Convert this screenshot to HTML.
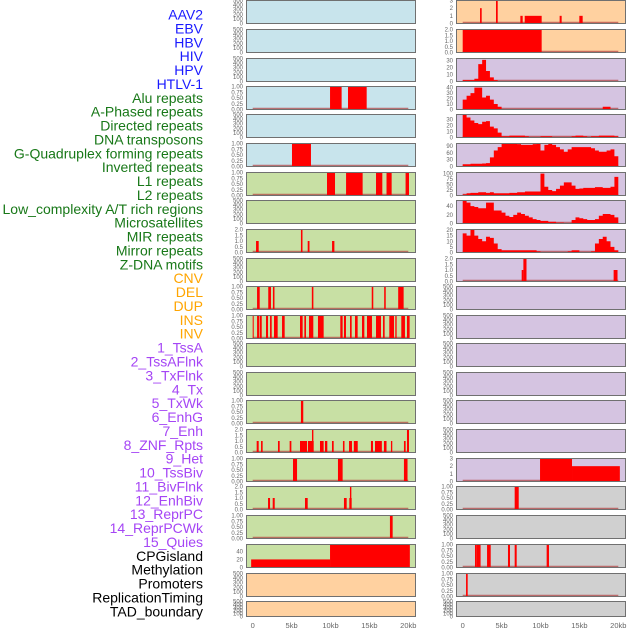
<!DOCTYPE html>
<html><head><meta charset="utf-8">
<style>
html,body{margin:0;padding:0;background:#fff;}
svg{display:block;font-family:"Liberation Sans",sans-serif;}
</style></head>
<body>
<svg id="chart" width="630" height="630" viewBox="0 0 630 630"></svg>
<script>
// ---------- data ----------
const trackLabels = ["AAV2","EBV","HBV","HIV","HPV","HTLV-1","Alu repeats","A-Phased repeats","Directed repeats","DNA transposons","G-Quadruplex forming repeats","Inverted repeats","L1 repeats","L2 repeats","Low_complexity A/T rich regions","Microsatellites","MIR repeats","Mirror repeats","Z-DNA motifs","CNV","DEL","DUP","INS","INV","1_TssA","2_TssAFlnk","3_TxFlnk","4_Tx","5_TxWk","6_EnhG","7_Enh","8_ZNF_Rpts","9_Het","10_TssBiv","11_BivFlnk","12_EnhBiv","13_ReprPC","14_ReprPCWk","15_Quies","CPGisland","Methylation","Promoters","ReplicationTiming","TAD_boundary"];
const labelGroups = ["v","v","v","v","v","v","r","r","r","r","r","r","r","r","r","r","r","r","r","s","s","s","s","s","c","c","c","c","c","c","c","c","c","c","c","c","c","c","c","k","k","k","k","k"];
const xTickValues = [0,5,10,15,20];
const xTickLabels = ["0","5kb","10kb","15kb","20kb"];

// left column segments [startKb, endKb, value]
const segL4 = [[9.94,11.43,1],[12.25,14.65,1]];
const segL6 = [[5.05,7.49,1]];
const segL7 = [[9.55,10.58,1],[12.0,14.13,1],[15.85,16.66,1],[17.2,17.86,1],[19.65,20.09,1]];
const segL9 = [[0.43,0.77,1],[6.2,6.4,2],[7.07,7.3,1],[10.2,10.5,1]];
const segL11 = [[0.56,0.9,1],[2.0,2.35,1],[2.6,2.8,1],[7.6,7.8,1],[15.3,15.5,1],[16.9,17.1,1],[18.7,19.4,1]];
const segL12 = [[0,0.13,1],[0.56,0.86,1],[0.94,1.16,1],[1.71,1.97,1],[2.23,2.44,1],[2.74,3.21,1],[3.77,4.11,1],[6.08,6.42,1],[6.64,6.85,1],[7.24,7.79,1],[8.39,9.12,1],[11.26,11.56,1],[11.73,11.99,1],[12.51,12.72,1],[13.15,13.49,1],[14.05,14.35,1],[14.69,15.33,1],[15.85,16.49,1],[16.75,16.96,1],[17.56,18.16,1],[18.33,18.5,1],[19.1,19.57,1],[19.83,20.17,1]];
const segL15 = [[6.2,6.5,1]];
const segL16 = [[0.51,0.77,1],[1.07,1.28,1],[3.25,3.47,1],[4.75,4.97,1],[6.08,6.98,1],[7.1,7.84,1],[7.62,7.8,2],[8.65,9.12,1],[9.29,9.59,1],[10.19,10.41,1],[11.6,11.8,1],[12.38,12.76,1],[13.0,13.5,1],[15.2,15.46,1],[15.72,16.6,1],[16.87,17.2,1],[17.77,17.94,1],[19.44,19.66,1],[19.83,20.09,2]];
const segL17 = [[5.18,5.7,1],[10.96,11.56,1],[19.44,19.9,1]];
const segL18 = [[1.97,2.23,1],[2.57,2.83,1],[6.72,7.07,1],[11.73,12.08,1],[12.42,12.72,1],[12.5,12.68,2]];
const segL19 = [[17.64,17.99,1]];
const segL20 = [[-0.2,9.94,20],[9.94,20.2,57]];

// right column segments
const segR1 = [[2.23,2.44,2],[4.28,4.5,3],[7.41,7.71,1],[7.97,10.15,1],[12.46,12.72,1],[14.99,15.42,1]];
const segR2 = [[0,10.15,2]];
const segR10 = [[7.58,7.8,1],[7.8,8.2,2],[19.4,19.9,1]];
const segR17 = [[9.94,14.05,3],[14.05,20.2,2]];
const segR18 = [[6.68,7.2,1]];
const segR20 = [[1.58,1.8,1],[1.8,2.3,1],[3.13,3.6,1],[5.82,6.08,1],[6.68,6.94,1],[10.79,11.09,1]];
const segR21 = [[0.43,0.64,1]];

// right column binned profiles (0.5 kb bins, 0..20 kb)
const binsR3 = [2,2,2,4,25,31,15,6,2,0,0,0,0,0,0,0,0,0,0,0,0,0,0,0,0,0,0,0,0,0,0,0,0,0,0,0,0,0,0,0];
const binsR4 = [18,25,30,40,40,22,25,18,10,5,0,0,0,0,0,0,0,0,0,0,0,0,0,0,0,0,0,0,0,0,0,0,0,0,0,0,5,5,0,0];
const binsR5 = [38,33,28,24,22,26,27,18,15,8,2,2,3,3,3,3,2,1,1,1,2,2,2,1,1,1,1,1,2,3,3,2,1,2,2,3,3,3,3,2];
const binsR6 = [10,10,12,12,12,13,15,40,70,85,100,100,100,100,98,95,95,95,98,100,70,95,100,95,85,75,65,75,85,85,85,85,85,80,70,65,65,70,75,45];
const binsR7 = [5,10,12,12,15,15,12,15,10,10,10,10,12,12,15,15,18,18,18,18,100,40,25,20,30,45,60,60,45,30,32,35,35,35,38,38,35,35,40,85];
const binsR8 = [52,48,40,38,35,35,48,48,30,30,25,18,15,20,25,22,18,14,10,8,6,6,4,4,2,2,0,0,8,14,12,10,8,8,10,18,22,22,20,14];
const binsR9 = [17,15,20,15,12,10,14,13,8,3,2,2,2,2,2,2,2,2,2,1,0,0,0,0,0,0,0,1,2,2,0,0,0,1,8,12,14,10,5,2];

// tick sets
const ticksEmpty = [0,100,200,300,400,500];
const ticksUnit = [0,0.25,0.5,0.75,1];
const ticksTwo = [0,0.5,1,1.5,2];
const ticksCpg = [0,20,40];
const ticksR1 = [0,1,2,3];
const ticksR3 = [0,10,20,30];
const ticksR4 = [0,10,20,30,40];
const ticksR6 = [0,30,60,90];
const ticksR7 = [0,25,50,75,100];
const ticksR8 = [0,20,40];
const ticksR9 = [0,5,10,15,20];
const ticksR17 = [0,1,2,3];

// ---------- layout ----------
const NS = "http://www.w3.org/2000/svg";
const svg = document.getElementById("chart");
const rowTops = [0,29,58,86,114,143,172,200,229,258,286,315,343,372,400,429,458,486,515,544,573,601];
const rowH = i => i === 21 ? 16 : 24;
const cols = [{x0:246,x1:416,z:252.7},{x0:456,x1:626,z:462.7}];
const kbPx = 7.78;
const BG = {b:"#c8e4ec",g:"#c8e0a4",p:"#ffd1a0",u:"#d5c4e1",k:"#d0d0d0"};
const leftBg = "bbbbbbggggggggggggggppp".split("");
const rightBg = "ppuuuuuuuuuuuuuuukkkkk".split("");

function mk(tag, attrs, parent){const e=document.createElementNS(NS,tag);for(const k in attrs)e.setAttribute(k,attrs[k]);(parent||svg).appendChild(e);return e;}

function fmt(v, ticks){
  const mx = ticks[ticks.length-1];
  if (mx===1) return v.toFixed(2);
  if (mx===2 && ticks.length===5) return v.toFixed(1);
  return String(v);
}

const panels = [
 // left
 [0,0,ticksEmpty,500,null,null],[0,1,ticksEmpty,500,null,null],[0,2,ticksEmpty,500,null,null],
 [0,3,ticksUnit,1,segL4,null],[0,4,ticksEmpty,500,null,null],[0,5,ticksUnit,1,segL6,null],
 [0,6,ticksUnit,1,segL7,null],[0,7,ticksEmpty,500,null,null],[0,8,ticksTwo,2,segL9,null],
 [0,9,ticksEmpty,500,null,null],[0,10,ticksUnit,1,segL11,null],[0,11,ticksUnit,1,segL12,null],
 [0,12,ticksEmpty,500,null,null],[0,13,ticksEmpty,500,null,null],[0,14,ticksUnit,1,segL15,null],
 [0,15,ticksTwo,2,segL16,null],[0,16,ticksUnit,1,segL17,null],[0,17,ticksTwo,2,segL18,null],
 [0,18,ticksUnit,1,segL19,null],[0,19,ticksCpg,57,segL20,null],[0,20,ticksEmpty,500,null,null],
 [0,21,ticksEmpty,500,null,null],
 // right
 [1,0,ticksR1,3,segR1,null],[1,1,ticksTwo,2,segR2,null],[1,2,ticksR3,33,null,binsR3],
 [1,3,ticksR4,42,null,binsR4],[1,4,ticksR3,38,null,binsR5],[1,5,ticksR6,101,null,binsR6],
 [1,6,ticksR7,105,null,binsR7],[1,7,ticksR8,53,null,binsR8],[1,8,ticksR9,20.5,null,binsR9],
 [1,9,ticksTwo,2,segR10,null],[1,10,ticksEmpty,500,null,null],[1,11,ticksEmpty,500,null,null],
 [1,12,ticksEmpty,500,null,null],[1,13,ticksEmpty,500,null,null],[1,14,ticksEmpty,500,null,null],
 [1,15,ticksEmpty,500,null,null],[1,16,ticksR17,3,segR17,null],[1,17,ticksUnit,1,segR18,null],
 [1,18,ticksEmpty,500,null,null],[1,19,ticksUnit,1,segR20,null],[1,20,ticksUnit,1,segR21,null],
 [1,21,ticksEmpty,500,null,null]
];

panels.forEach(([c,r,ticks,ymax,segs,bins])=>{
  const col = cols[c], top = rowTops[r], h = rowH(r);
  const yB = top+h-0.5, yT = top+0.5;
  const ys = v => yB - Math.min(v,ymax)/ymax*(h-1);
  const xs = kb => Math.max(col.x0+0.5, Math.min(col.x1-0.5, col.z + kb*kbPx));
  const g = mk("g",{});
  
  
  const bg = mk("rect",{x:col.x0,y:top,width:col.x1-col.x0,height:h,fill:BG[(c===0?leftBg:rightBg)[r]]},g);
  
  
  if (segs || bins){
    const bl = mk("line",{x1:xs(0),x2:xs(20),y1:yB-1,y2:yB-1,stroke:"#b04040","stroke-opacity":"0.7","stroke-width":"1.5"},g);
    
    
  }
  if (segs){
    segs.forEach(s=>{
      const x1 = xs(s[0]), x2 = xs(s[1]);
      const rc = mk("rect",{x:x1,y:ys(s[2]),width:Math.max(1,x2-x1),height:yB-ys(s[2]),fill:"#ff0000"},g);
      
      
    });
  }
  if (bins){
    let d = "M"+xs(0)+","+yB;
    bins.forEach((v,i)=>{ d += " L"+xs(i*0.5)+","+ys(v)+" L"+xs((i+1)*0.5)+","+ys(v); });
    d += " L"+xs(20)+","+yB+" Z";
    const p = mk("path",{d:d,fill:"#ff0000"},g);
    
    
  }
  const br = mk("rect",{x:col.x0+0.5,y:top+0.5,width:col.x1-col.x0-1,height:h-1,fill:"none",stroke:"#707070","stroke-width":"1"},g);
  
  
  ticks.forEach(t=>{
    const tx = mk("text",{x:col.x0-3,y:ys(t)+2,"text-anchor":"end","font-size":"6",fill:"#666"},g);
    tx.textContent = fmt(t,ticks);
    
    
  });
});

// x axis labels
cols.forEach((col,c)=>{
  xTickValues.forEach((v,i)=>{
    const t = mk("text",{x:col.z+v*kbPx,y:628,"text-anchor":"middle","font-size":"7.5",fill:"#666"});
    t.textContent = xTickLabels[i];
    
    
  });
});

// track labels
const groupColor = {v:"#1a1aff",r:"#187818",s:"#ffa500",c:"#a545f5",k:"#000000"};
trackLabels.forEach((lab,i)=>{
  const t = mk("text",{x:203,y:19.5+i*13.88,"text-anchor":"end","font-size":"14",fill:groupColor[labelGroups[i]]});
  t.textContent = lab;
  
  
});
</script>
</body></html>
